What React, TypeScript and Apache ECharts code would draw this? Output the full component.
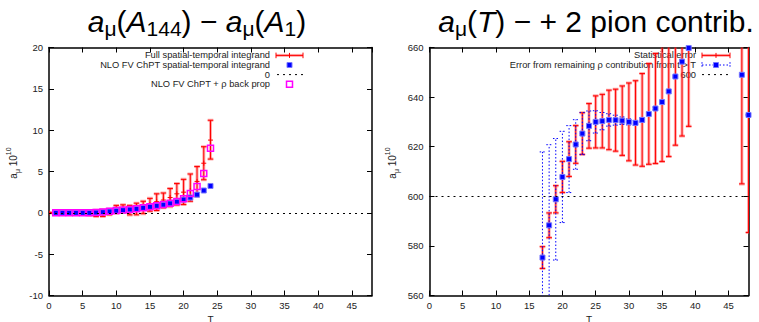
import React, { useEffect, useRef } from "react";
import * as echarts from "echarts";

// ---------- data ----------
const xTicks = [0, 5, 10, 15, 20, 25, 30, 35, 40, 45];
const xMax = 48;
const leftYTicks = [-10, -5, 0, 5, 10, 15, 20];
const rightYTicks = [560, 580, 600, 620, 640, 660];

// Left panel: full spatial-temporal integrand (red error bars)
const fullT = [0, 1, 2, 3, 4, 5, 6, 7, 8, 9, 10, 11, 12, 13, 14, 15, 16, 17, 18, 19, 20, 21, 22, 23, 24];
const fullCenter = [0, 0, 0, 0, 0, 0, -0.05, -0.1, 0, 0.2, 0.36, 0.45, 0.36, 0.48, 0.7, 0.97, 1.35, 1.55, 1.85, 2.3, 2.5, 2.7, 3.8, 6.0, 8.8];
const fullLow = [0, -0.05, -0.05, -0.05, -0.08, -0.1, -0.3, -0.44, -0.44, -0.24, -0.05, 0.04, -0.25, -0.24, -0.1, 0.2, 0.28, 0.6, 0.75, 0.95, 1.0, 1.4, 2.0, 4.0, 6.5];
const fullHigh = [0, 0.05, 0.05, 0.05, 0.08, 0.1, 0.15, 0.3, 0.36, 0.44, 0.9, 0.97, 0.9, 1.17, 1.4, 1.75, 2.3, 2.4, 2.95, 3.55, 4.05, 4.7, 5.6, 8.0, 11.2];

// Left panel: NLO FV ChPT curves
const nloT = [1, 2, 3, 4, 5, 6, 7, 8, 9, 10, 11, 12, 13, 14, 15, 16, 17, 18, 19, 20, 21, 22, 23, 24];
const nloFV = [0, 0, 0, 0, 0, 0, 0.03, 0.08, 0.16, 0.24, 0.32, 0.4, 0.48, 0.6, 0.73, 0.85, 0.97, 1.13, 1.33, 1.6, 1.85, 2.2, 2.7, 3.25];
const nloRho = [0, 0, 0, 0, 0, 0, 0.05, 0.1, 0.2, 0.28, 0.33, 0.4, 0.48, 0.6, 0.73, 0.85, 1.0, 1.15, 1.38, 1.7, 2.35, 3.2, 4.75, 7.8];

// Right panel
const rightT = [17, 18, 19, 20, 21, 22, 23, 24, 25, 26, 27, 28, 29, 30, 31, 32, 33, 34, 35, 36, 37, 38, 39, 47, 48];
const rightCenter = [575.3, 588.3, 598.8, 607.8, 615.0, 620.9, 625.3, 628.4, 630.0, 630.3, 630.8, 630.7, 630.5, 630.0, 629.6, 630.8, 633.2, 635.4, 638.0, 642.3, 648.3, 654.3, 659.8, 649.0, 632.8];
const statErr = [4.4, 5, 5.5, 6.3, 7, 7.6, 8.4, 9, 10.5, 10.8, 12, 12.5, 14, 15.7, 17, 18.7, 20.3, 22.2, 24, 26.3, 27.7, 30, 31.6, 44, 47.4];
const rhoErr = [42.6, 32.5, 24.5, 18.4, 13.5, 10, 8.5, 6, 4.5, 3.5, 2.5, 2, 1.5, 1.2, 1, 0.8, 0.6, 0.5, 0.4, 0.4, 0.3, 0.3, 0.3, 0, 0];

// ---------- styling ----------
const FONT = "'Liberation Sans', Arial, Helvetica, sans-serif";
const LBL = 9.5;
const LEG = 9.3;
const RED = "#ff0000";
const PINK = "rgba(255,70,70,0.45)";
const BLUE = "#0000ff";
const MAG = "#ff00ff";
const ROWS = [55.4, 65.0, 74.6, 84.2];

const makeErrRender = (kind: "stat" | "dotted", plus: boolean) => (params: any, api: any) => {
  const x = api.value(0);
  const lo = api.coord([x, api.value(1)]);
  const hi = api.coord([x, api.value(2)]);
  const c = api.coord([x, api.value(3)]);
  const hw = 2.8;
  const layers =
    kind === "stat"
      ? [
          { stroke: PINK, lineWidth: 3 },
          { stroke: RED, lineWidth: 1 },
        ]
      : [{ stroke: BLUE, lineWidth: 1, lineDash: [1.5, 2] }];
  const children: any[] = [];
  for (const st of layers) {
    children.push({ type: "line", shape: { x1: lo[0], y1: lo[1], x2: hi[0], y2: hi[1] }, style: { ...st } });
    children.push({ type: "line", shape: { x1: lo[0] - hw, y1: lo[1], x2: lo[0] + hw, y2: lo[1] }, style: { ...st } });
    children.push({ type: "line", shape: { x1: hi[0] - hw, y1: hi[1], x2: hi[0] + hw, y2: hi[1] }, style: { ...st } });
  }
  if (plus) {
    children.push({ type: "line", shape: { x1: c[0] - 2.5, y1: c[1], x2: c[0] + 2.5, y2: c[1] }, style: { stroke: RED, lineWidth: 1 } });
    children.push({ type: "line", shape: { x1: c[0], y1: c[1] - 2.5, x2: c[0], y2: c[1] + 2.5 }, style: { stroke: RED, lineWidth: 1 } });
  }
  return { type: "group", children };
};

const axisBase = (extra: any) => ({
  axisLine: { show: true, onZero: false, lineStyle: { color: "#000", width: 1.5 } },
  axisTick: { show: true, inside: true, length: 5, lineStyle: { color: "#000", width: 1 } },
  splitLine: { show: false },
  ...extra,
});

const xAxes = (grid: number) => [
  axisBase({
    type: "value",
    gridIndex: grid,
    position: "bottom",
    min: xTicks[0],
    max: xMax,
    interval: xTicks[1] - xTicks[0],
    name: "T",
    nameLocation: "middle",
    nameGap: 15,
    nameTextStyle: { fontFamily: FONT, fontSize: 10, lineHeight: 10, color: "#222" },
    axisLabel: { fontFamily: FONT, fontSize: LBL, color: "#222", margin: 5, showMaxLabel: false },
  }),
  axisBase({
    type: "value",
    gridIndex: grid,
    position: "top",
    min: xTicks[0],
    max: xMax,
    interval: xTicks[1] - xTicks[0],
    axisLabel: { show: false },
  }),
];

const yAxes = (grid: number, ticks: number[]) => [
  axisBase({
    type: "value",
    gridIndex: grid,
    position: "left",
    min: ticks[0],
    max: ticks[ticks.length - 1],
    interval: ticks[1] - ticks[0],
    axisLabel: { fontFamily: FONT, fontSize: LBL, color: "#222", margin: 6 },
  }),
  axisBase({
    type: "value",
    gridIndex: grid,
    position: "right",
    min: ticks[0],
    max: ticks[ticks.length - 1],
    interval: ticks[1] - ticks[0],
    axisLabel: { show: false },
  }),
];

const titleRich = {
  i: { fontFamily: FONT, fontStyle: "italic", fontSize: 30, lineHeight: 36, verticalAlign: "middle", color: "#000" },
  n: { fontFamily: FONT, fontSize: 30, lineHeight: 36, verticalAlign: "middle", color: "#000" },
  s: { fontFamily: FONT, fontSize: 21, lineHeight: 20, verticalAlign: "bottom", color: "#000" },
};

const ylabRich = {
  a: { fontFamily: FONT, fontSize: 10, lineHeight: 16, verticalAlign: "middle", color: "#222" },
  m: { fontFamily: FONT, fontSize: 7, lineHeight: 10, verticalAlign: "bottom", color: "#222" },
  t: { fontFamily: FONT, fontSize: 10, lineHeight: 16, verticalAlign: "middle", color: "#222" },
  p: { fontFamily: FONT, fontSize: 7, lineHeight: 10, verticalAlign: "top", color: "#222" },
};

const legendText = (x: number, y: number, text: string) => ({
  type: "text",
  x,
  y,
  z: 1,
  style: { text, align: "right", verticalAlign: "middle", fontFamily: FONT, fontSize: LEG, lineHeight: 9, fill: "#222" },
});
const hline = (x1: number, x2: number, y: number, style: any) => ({
  type: "line",
  z: 5,
  shape: { x1, y1: y, x2, y2: y },
  style,
});
const vline = (x: number, y1: number, y2: number, style: any) => ({
  type: "line",
  z: 5,
  shape: { x1: x, y1, x2: x, y2 },
  style,
});
const statSample = (x1: number, x2: number, y: number) => [
  hline(x1, x2, y, { stroke: PINK, lineWidth: 3 }),
  hline(x1, x2, y, { stroke: RED, lineWidth: 1 }),
  vline(x1, y - 2.8, y + 2.8, { stroke: RED, lineWidth: 1 }),
  vline(x2, y - 2.8, y + 2.8, { stroke: RED, lineWidth: 1 }),
  vline((x1 + x2) / 2, y - 2.5, y + 2.5, { stroke: RED, lineWidth: 1 }),
];

export default function App() {
  const ref = useRef<HTMLDivElement>(null);
  useEffect(() => {
    if (!ref.current) return;
    document.body.style.margin = "0";
    document.body.style.overflow = "hidden";
    const chart = echarts.init(ref.current, undefined, { renderer: "svg" });

    const option: any = {
      animation: false,
      backgroundColor: "#fff",
      grid: [
        { left: 49, top: 47.5, width: 323, height: 248, containLabel: false, outerBoundsMode: "none" },
        { left: 429.5, top: 47.5, width: 319, height: 248, containLabel: false, outerBoundsMode: "none" },
      ],
      xAxis: [...xAxes(0), ...xAxes(1)],
      yAxis: [...yAxes(0, leftYTicks), ...yAxes(1, rightYTicks)],
      series: [
        {
          name: "Full spatial-temporal integrand",
          type: "custom",
          xAxisIndex: 0,
          yAxisIndex: 0,
          clip: true,
          z: 2,
          renderItem: makeErrRender("stat", true),
          data: fullT.map((t, i) => [t, fullLow[i], fullHigh[i], fullCenter[i]]),
        },
        {
          name: "NLO FV ChPT spatial-temporal integrand",
          type: "scatter",
          xAxisIndex: 0,
          yAxisIndex: 0,
          z: 3,
          symbol: "rect",
          symbolSize: 5,
          itemStyle: { color: BLUE, borderColor: "#7878ff", borderWidth: 1, opacity: 1 },
          data: nloT.map((t, i) => [t, nloFV[i]]),
        },
        {
          name: "0",
          type: "line",
          xAxisIndex: 0,
          yAxisIndex: 0,
          z: 1,
          data: [],
          markLine: {
            silent: true,
            symbol: "none",
            label: { show: false },
            lineStyle: { color: "#000", width: 1, type: [2, 4] },
            data: [{ yAxis: 0 }],
          },
        },
        {
          name: "NLO FV ChPT + ρ back prop",
          type: "scatter",
          xAxisIndex: 0,
          yAxisIndex: 0,
          z: 4,
          symbol: "rect",
          symbolSize: 6,
          itemStyle: { color: "rgba(0,0,0,0)", borderColor: MAG, borderWidth: 1.5, opacity: 1 },
          data: nloT.map((t, i) => [t, nloRho[i]]),
        },
        // right panel
        {
          name: "Statistical error",
          type: "custom",
          xAxisIndex: 2,
          yAxisIndex: 2,
          clip: true,
          z: 2,
          renderItem: makeErrRender("stat", true),
          data: rightT.map((t, i) => [t, rightCenter[i] - statErr[i], rightCenter[i] + statErr[i], rightCenter[i]]),
        },
        {
          name: "Error from remaining ρ contribution from t > T",
          type: "custom",
          xAxisIndex: 2,
          yAxisIndex: 2,
          clip: true,
          z: 3,
          renderItem: makeErrRender("dotted", false),
          data: rightT.map((t, i) => [t, rightCenter[i] - rhoErr[i], rightCenter[i] + rhoErr[i], rightCenter[i]]),
        },
        {
          name: "rho points",
          type: "scatter",
          xAxisIndex: 2,
          yAxisIndex: 2,
          z: 4,
          symbol: "rect",
          symbolSize: 5,
          itemStyle: { color: BLUE, borderColor: "#7878ff", borderWidth: 1, opacity: 1 },
          data: rightT.map((t, i) => [t, rightCenter[i]]),
        },
        {
          name: "600",
          type: "line",
          xAxisIndex: 2,
          yAxisIndex: 2,
          z: 1,
          data: [],
          markLine: {
            silent: true,
            symbol: "none",
            label: { show: false },
            lineStyle: { color: "#000", width: 1, type: [2, 4] },
            data: [{ yAxis: 600 }],
          },
        },
      ],
      graphic: [
        // titles
        {
          type: "text",
          x: 197,
          y: 21,
          style: {
            text: "{i|a}{s|μ}{n|(}{i|A}{s|144}{n|) − }{i|a}{s|μ}{n|(}{i|A}{s|1}{n|)}",
            rich: titleRich,
            align: "center",
            verticalAlign: "middle",
            fontFamily: FONT,
            fontSize: 30,
            fill: "#000",
          },
        },
        {
          type: "text",
          x: 596,
          y: 21,
          style: {
            text: "{i|a}{s|μ}{n|(}{i|T}{n|) − + 2 pion contrib.}",
            rich: titleRich,
            align: "center",
            verticalAlign: "middle",
            fontFamily: FONT,
            fontSize: 30,
            fill: "#000",
          },
        },
        // y axis names
        {
          type: "text",
          x: 13,
          y: 163,
          rotation: Math.PI / 2,
          style: {
            text: "{a|a}{m|μ}{t| 10}{p|10}",
            rich: ylabRich,
            align: "center",
            verticalAlign: "middle",
            fontFamily: FONT,
            fontSize: 10,
            fill: "#222",
          },
        },
        {
          type: "text",
          x: 392,
          y: 163,
          rotation: Math.PI / 2,
          style: {
            text: "{a|a}{m|μ}{t| 10}{p|10}",
            rich: ylabRich,
            align: "center",
            verticalAlign: "middle",
            fontFamily: FONT,
            fontSize: 10,
            fill: "#222",
          },
        },
        // left legend
        legendText(270, ROWS[0], "Full spatial-temporal integrand"),
        ...statSample(276, 303, ROWS[0]),
        legendText(270, ROWS[1], "NLO FV ChPT spatial-temporal integrand"),
        { type: "rect", z: 5, shape: { x: 287, y: ROWS[1] - 2.5, width: 5, height: 5 }, style: { fill: BLUE, stroke: "#7878ff", lineWidth: 1 } },
        legendText(270, ROWS[2], "0"),
        hline(277, 303, ROWS[2], { stroke: "#000", lineWidth: 1, lineDash: [2, 4] }),
        legendText(270, ROWS[3], "NLO FV ChPT + ρ back prop"),
        { type: "rect", z: 5, shape: { x: 286.5, y: ROWS[3] - 3, width: 6, height: 6 }, style: { fill: "none", stroke: MAG, lineWidth: 1.5 } },
        // right legend
        legendText(696, ROWS[0], "Statistical error"),
        ...statSample(702, 730, ROWS[0]),
        legendText(696, ROWS[1], "Error from remaining ρ contribution from t > T"),
        hline(702, 730, ROWS[1], { stroke: BLUE, lineWidth: 1, lineDash: [1.5, 2] }),
        vline(702, ROWS[1] - 2.8, ROWS[1] + 2.8, { stroke: BLUE, lineWidth: 1, lineDash: [1.5, 1.5] }),
        vline(730, ROWS[1] - 2.8, ROWS[1] + 2.8, { stroke: BLUE, lineWidth: 1, lineDash: [1.5, 1.5] }),
        { type: "rect", z: 5, shape: { x: 713.5, y: ROWS[1] - 2.5, width: 5, height: 5 }, style: { fill: BLUE, stroke: "#7878ff", lineWidth: 1 } },
        legendText(696, ROWS[2], "600"),
        hline(702, 730, ROWS[2], { stroke: "#000", lineWidth: 1, lineDash: [2, 4] }),
      ],
    };

    chart.setOption(option);
    return () => chart.dispose();
  }, []);

  return <div ref={ref} style={{ width: 759, height: 322 }} />;
}
